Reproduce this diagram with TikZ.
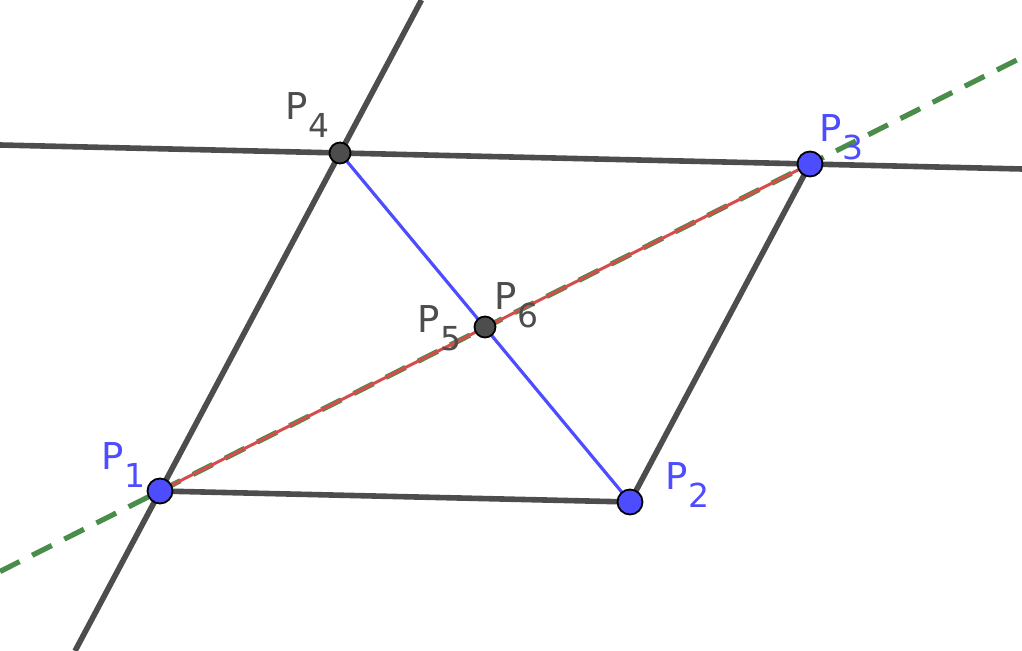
\documentclass[tikz,border=0pt]{standalone}
\usepackage{fontspec}
\setmainfont{DejaVu Sans}
\definecolor{ggdark}{RGB}{77,77,77}
\definecolor{ggblue}{RGB}{77,77,255}
\definecolor{ggred}{RGB}{214,76,76}
\definecolor{gggreen}{RGB}{74,140,74}
\newcommand{\ptlabel}[1]{P\kern0.5pt\raisebox{-9pt}{\fontsize{16.5}{16.5}\selectfont #1}}
\begin{document}
\begin{tikzpicture}
    [ x=0.5pt, y=-0.5pt
    , line/.style={draw=ggdark, line width=2.8pt}
    , freept/.style={circle, draw=black, fill=ggblue, line width=0.9pt, minimum size=12.5pt, inner sep=0pt}
    , deppt/.style={circle, draw=black, fill=ggdark, line width=0.9pt, minimum size=10.5pt, inner sep=0pt}
    , lab/.style={anchor=base west, inner sep=0pt, font=\fontsize{18.5}{18.5}\selectfont}
    ]
\useasboundingbox (0,0) rectangle (1022,651);
\clip (0,0) rectangle (1022,651);
% points
\coordinate (p1) at (160,491);
\coordinate (p2) at (630,502);
\coordinate (p3) at (810,164);
\coordinate (p4) at (340,153);
\coordinate (p5) at (485,327);
% ends of the lines at the frame
\coordinate (a14) at (421.5,0);
\coordinate (b14) at (75,651);
\coordinate (a43) at (0,145);
\coordinate (b43) at (1022,169);
\coordinate (a13) at (0,571.5);
\coordinate (b13) at (1022,57.4);

\draw[line] (a14) -- (b14);
\draw[line] (a43) -- (b43);
\draw[line] (p1) -- (p2) -- (p3);
\draw[ggblue, line width=1.6pt] (p4) -- (p2);
\draw[gggreen, line width=2.6pt, dash pattern=on 11pt off 7pt] (a13) -- (b13);
\draw[ggred, line width=1.5pt] (p1) -- (p3);

\node[freept] (n1) at (p1) {};
\node[freept] (n2) at (p2) {};
\node[freept] (n3) at (p3) {};
\node[deppt] (n4) at (p4) {};
\node[deppt] (n5) at (p5) {};

\node[lab, text=ggblue] (l1) at (101,470) {\ptlabel{1}};
\node[lab, text=ggblue] (l2) at (665,490) {\ptlabel{2}};
\node[lab, text=ggblue] (l3) at (819,142) {\ptlabel{3}};
\node[lab, text=ggdark] (l4) at (285,120) {\ptlabel{4}};
\node[lab, text=ggdark] (l5) at (417,333) {\ptlabel{5}};
\node[lab, text=ggdark] (l6) at (494,310) {\ptlabel{6}};

\end{tikzpicture}
\end{document}
